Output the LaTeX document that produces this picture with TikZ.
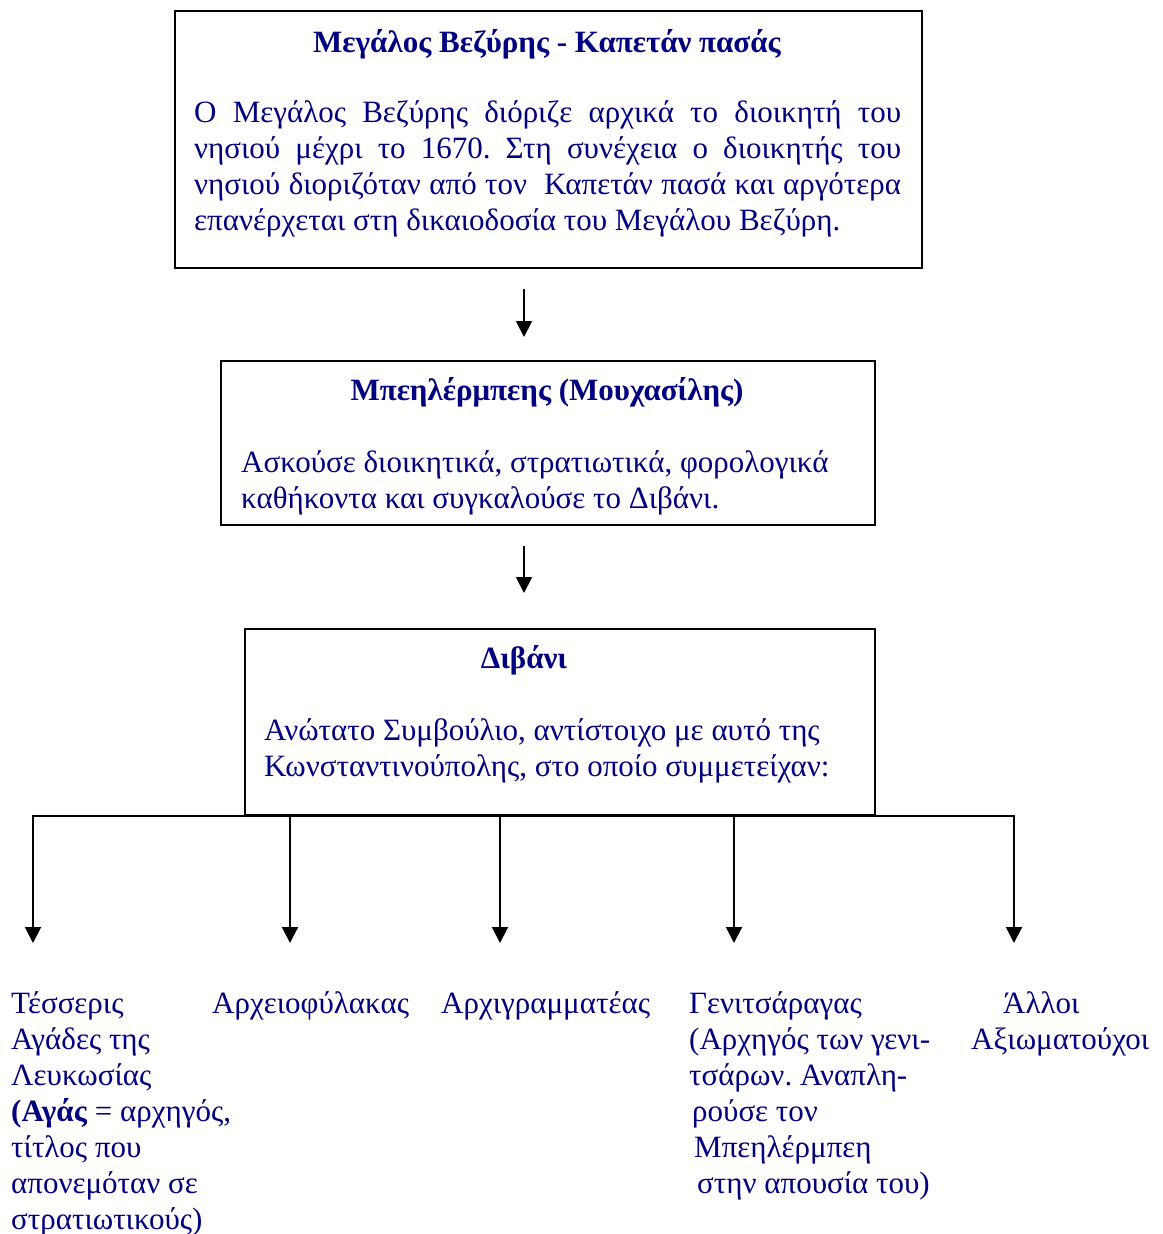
\documentclass[tikz,border=0pt]{standalone}
\usepackage{fontspec}
\setmainfont{Liberation Serif}
\usetikzlibrary{arrows.meta}
\definecolor{navy}{HTML}{000080}
\frenchspacing
\begin{document}
\begin{tikzpicture}[x=1pt,y=-1pt,
  boxst/.style={draw=black,line width=1.8pt,inner sep=0pt,anchor=north west},
  txt/.style={inner sep=0pt,anchor=base west,text=navy,font=\fontsize{31}{36}\selectfont},
  ttl/.style={inner sep=0pt,anchor=base,text=navy,font=\fontsize{31}{36}\selectfont\bfseries},
  arr/.style={line width=2pt,-{Triangle[length=16pt,width=16pt]}}]
\useasboundingbox (0,0) rectangle (1162,1234);

% boxes
\node[boxst,minimum width=747pt,minimum height=257pt] (box1) at (174,10) {};
\node[boxst,minimum width=654pt,minimum height=164pt] (box2) at (220,360) {};
\node[boxst,minimum width=630pt,minimum height=186pt] (box3) at (244,628) {};

% box 1 text
\node[ttl] (t1) at (547,52) {Μεγάλος Βεζύρης - Καπετάν πασάς};
\node[txt] (b1) at (194,122) {\parbox[t]{707pt}{%
\makebox[707pt][s]{Ο Μεγάλος Βεζύρης διόριζε αρχικά το διοικητή του}\\
\makebox[707pt][s]{νησιού μέχρι το 1670. Στη συνέχεια ο διοικητής του}\\
\makebox[707pt][s]{νησιού διοριζόταν από τον\ \ Καπετάν πασά και αργότερα}\\
επανέρχεται στη δικαιοδοσία του Μεγάλου Βεζύρη.}};

% box 2 text
\node[ttl] (t2) at (547,400) {Μπεηλέρμπεης (Μουχασίλης)};
\node[txt] (b2) at (241,472) {\parbox[t]{640pt}{%
Ασκούσε διοικητικά, στρατιωτικά, φορολογικά\\
καθήκοντα και συγκαλούσε το Διβάνι.}};

% box 3 text
\node[ttl] (t3) at (524,668) {Διβάνι};
\node[txt] (b3) at (264,740) {\parbox[t]{610pt}{%
Ανώτατο Συμβούλιο, αντίστοιχο με αυτό της\\
Κωνσταντινούπολης, στο οποίο συμμετείχαν:}};

% arrows between boxes
\coordinate (a1s) at (524,289);
\coordinate (a1e) at (524,337);
\coordinate (a2s) at (524,546);
\coordinate (a2e) at (524,593);
\draw[arr] (a1s) -- (a1e);
\draw[arr] (a2s) -- (a2e);

% branch arrows
\coordinate (e1) at (33,943);
\coordinate (e2) at (290,943);
\coordinate (e3) at (500,943);
\coordinate (e4) at (734,943);
\coordinate (e5) at (1014,943);
\foreach \e in {e1,e2,e3,e4,e5}
  \draw[arr] (box3.south) -| (\e);

% bottom texts
\node[txt] (c1) at (11,1013) {\parbox[t]{260pt}{%
Τέσσερις\\
Αγάδες της\\
Λευκωσίας\\
\textbf{(Αγάς} = αρχηγός,\\
τίτλος που\\
απονεμόταν σε\\
στρατιωτικούς)}};
\node[txt] (c2) at (212,1013) {Αρχειοφύλακας};
\node[txt] (c3) at (441,1013) {Αρχιγραμματέας};
\node[txt] (c4) at (689,1013) {\parbox[t]{280pt}{%
Γενιτσάραγας\\
(Αρχηγός των γενι-\\
τσάρων. Αναπλη-\\
\hspace*{3pt}ρούσε τον\\
\hspace*{5pt}Μπεηλέρμπεη\\
\hspace*{8pt}στην απουσία του)}};
\node[txt] (c5) at (971,1013) {\parbox[t]{190pt}{%
\hspace*{32pt}Άλλοι\\
Αξιωματούχοι}};
\end{tikzpicture}
\end{document}
